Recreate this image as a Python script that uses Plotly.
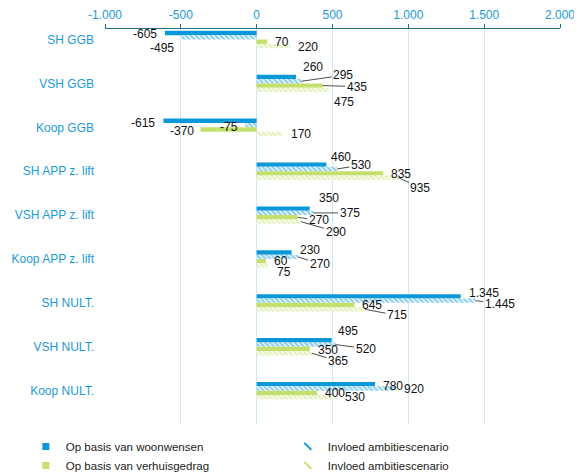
import plotly.graph_objects as go

# categories (top to bottom) and series values
categories = ["SH GGB", "VSH GGB", "Koop GGB", "SH APP z. lift", "VSH APP z. lift",
              "Koop APP z. lift", "SH NULT.", "VSH NULT.", "Koop NULT."]
woonwensen = [-605, 260, -615, 460, 350, 230, 1345, 495, 780]
ambitie_woonwensen = [-495, 295, -75, 530, 375, 270, 1445, 520, 920]
verhuisgedrag = [70, 435, -370, 835, 270, 60, 645, 350, 400]
ambitie_verhuisgedrag = [220, 475, 170, 935, 290, 75, 715, 365, 530]

series_names = ["Op basis van woonwensen", "Invloed ambitiescenario",
                "Op basis van verhuisgedrag", "Invloed ambitiescenario"]

tick_vals = [-1000, -500, 0, 500, 1000, 1500, 2000]
tick_text = ["-1.000", "-500", "0", "500", "1.000", "1.500", "2.000"]

BLUE = "#0a98d8"
GREEN = "#c4df6b"
AXIS_BLUE = "#1a9ad6"

# label offsets in px (dx, dy, leader line) per category, per series
label_offsets = [
    [(-20, 1, 0), (-20, 11, 0), (15, 0, 0), (18, 1, 0)],
    [(17, -10, 0), (42, -6, 1), (34, 1, 1), (15, 12, 0)],
    [(-20, 2, 0), (-16, 2, 0), (-19, 2, 0), (19, 0, 0)],
    [(15, -8, 0), (24, -4, 1), (18, 1, 0), (22, 10, 1)],
    [(19, -11, 0), (36, 0, 1), (21, 3, 1), (35, 10, 1)],
    [(18, -2, 0), (22, 7, 1), (15, 0, 0), (16, 6, 0)],
    [(23, -3, 0), (24, 3, 1), (18, 0, 0), (32, 6, 1)],
    [(16, -9, 0), (30, 4, 1), (18, 1, 0), (26, 8, 1)],
    [(18, 2, 0), (18, 1, 0), (18, 0, 0), (18, 0, 0)],
]


def nl(v):
    return f"{v:,}".replace(",", ".")


series = [woonwensen, ambitie_woonwensen, verhuisgedrag, ambitie_verhuisgedrag]
colors = [BLUE, BLUE, GREEN, GREEN]
hatched = [False, True, False, True]
ypos = list(range(len(categories)))

fig = go.Figure()
for vals, name, col, hat in zip(series, series_names, colors, hatched):
    if hat:
        marker = dict(color="white", line_width=0,
                      pattern=dict(shape="\\", fgcolor=col, bgcolor="white",
                                   size=3.5, solidity=0.6, fillmode="overlay"))
    else:
        marker = dict(color=col, line_width=0)
    fig.add_trace(go.Bar(x=vals, y=ypos, orientation="h", name=name,
                         marker=marker, showlegend=False, hoverinfo="x"))

# small legend symbols
for name, col, hat in zip(series_names, colors, hatched):
    if hat:
        m = dict(symbol="line-nw", size=7, line=dict(color=col, width=2))
    else:
        m = dict(symbol="square", size=7, color=col)
    fig.add_trace(go.Scatter(x=[None], y=[None], mode="markers", name=name,
                             marker=m, showlegend=True))

bargap = 0.604
bar_w = (1 - bargap) / 4
for k, vals in enumerate(series):
    for i, v in enumerate(vals):
        dx, dy, leader = label_offsets[i][k]
        fig.add_annotation(
            x=v, y=i + (k - 1.5) * bar_w, text=nl(v),
            showarrow=True, ax=dx, ay=dy, arrowhead=0, standoff=0,
            arrowwidth=0.8,
            arrowcolor="#222222" if leader else "rgba(0,0,0,0)",
            font=dict(family="Liberation Sans, Arial", size=12, color="#111111"),
        )

# figure is a bit taller than the window; the page's own margin shifts it by 8px
fig.update_layout(
    width=582, height=500,
    margin=dict(l=97, r=30, t=21, b=84),
    barmode="group", bargap=bargap, bargroupgap=0,
    plot_bgcolor="white", paper_bgcolor="white",
    font=dict(family="Liberation Sans, Arial", size=12, color="#222222"),
    legend=dict(orientation="h", x=-0.174, xanchor="left", y=-0.02, yanchor="top",
                entrywidth=217, entrywidthmode="pixels", tracegroupgap=0,
                font=dict(size=11.5, color="#222222")),
)
fig.update_xaxes(
    side="top", range=[-1000, 2000], tickvals=tick_vals, ticktext=tick_text,
    showgrid=True, gridcolor="#cfe6f3", gridwidth=1, zeroline=False,
    showline=True, linecolor="#1f6e8c", linewidth=1.2,
    ticks="outside", ticklen=4, tickcolor="#1f6e8c", ticklabelstandoff=0,
    tickfont=dict(color=AXIS_BLUE, size=12), automargin=False,
)
fig.update_yaxes(
    tickvals=ypos, ticktext=categories, range=[8.76, -0.24],
    showgrid=False, zeroline=False, showline=False, ticks="",
    ticklabelstandoff=10, tickfont=dict(color=AXIS_BLUE, size=12),
    automargin=False,
)

fig.write_html("out.html")
